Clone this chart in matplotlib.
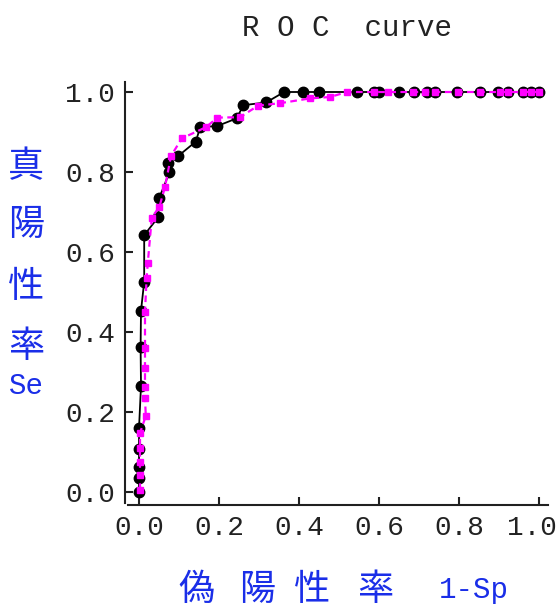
import matplotlib
matplotlib.use("Agg")
import matplotlib.pyplot as plt
from matplotlib.transforms import ScaledTranslation

# ROC points of the two tests (false-positive rate, true-positive rate)
fpr_a = [0.0, 0.0, 0.0, 0.0, 0.0, 0.005, 0.004, 0.005, 0.013, 0.013,
         0.048, 0.051, 0.076, 0.073, 0.098, 0.142, 0.153, 0.196, 0.244, 0.261,
         0.318, 0.363, 0.409, 0.45, 0.545, 0.5875, 0.6, 0.65, 0.6875, 0.72,
         0.74, 0.795, 0.8525, 0.8975, 0.9225, 0.96, 0.98, 1.0]
tpr_a = [0.0, 0.034, 0.063, 0.107, 0.159, 0.265, 0.363, 0.453, 0.526, 0.642,
         0.687, 0.736, 0.799, 0.823, 0.84, 0.876, 0.912, 0.915, 0.934, 0.967,
         0.974, 1.0, 1.0, 1.0, 1.0, 1.0, 1.0, 1.0, 1.0, 1.0,
         1.0, 1.0, 1.0, 1.0, 1.0, 1.0, 1.0, 1.0]

fpr_b = [0.0025, 0.0025, 0.0025, 0.0025, 0.0025, 0.017, 0.015, 0.015, 0.015, 0.015,
         0.015, 0.019, 0.022, 0.032, 0.051, 0.065, 0.08, 0.107, 0.1675, 0.196,
         0.2525, 0.298, 0.3525, 0.4275, 0.4775, 0.52, 0.5875, 0.6225, 0.685, 0.715,
         0.74, 0.7975, 0.8525, 0.9025, 0.9225, 0.96, 0.98, 1.0]
tpr_b = [0.005, 0.0425, 0.075, 0.11, 0.1475, 0.19, 0.234, 0.263, 0.309, 0.359,
         0.451, 0.534, 0.573, 0.686, 0.713, 0.7625, 0.84, 0.884, 0.912, 0.936,
         0.937, 0.966, 0.972, 0.984, 0.9875, 1.0, 1.0, 1.0, 1.0, 1.0,
         1.0, 1.0, 1.0, 1.0, 1.0, 1.0, 1.0, 1.0]

ticks = [0.0, 0.2, 0.4, 0.6, 0.8, 1.0]
tick_labels = ["0.0", "0.2", "0.4", "0.6", "0.8", "1.0"]

title = "R O C  curve"
ylabel_chars = ["真", "陽", "性", "率"]
ylabel_tail = "Se"
xlabel_chars = ["偽", "陽", "性", "率"]
xlabel_tail = "1-Sp"

mono = "Liberation Mono"
cjk = "Noto Sans CJK JP"

W, H = 560, 612
fig = plt.figure(figsize=(W / 100, H / 100), dpi=100)

# axes box in pixels: left 125, right 551, top 80, bottom 505
ax = fig.add_axes([125 / W, (H - 505) / H, 426 / W, 425 / H])
ax.set_xlim(-0.035, 1.03)
ax.set_ylim(-0.0325, 1.03)

ax.plot(fpr_a, tpr_a, color="black", lw=1.3,
        marker="o", ms=7.5, mfc="black", mec="black", zorder=2)
ax.plot(fpr_b, tpr_b, color="#ff00ff", lw=1.6, ls=(0, (3, 2)),
        marker="s", ms=5.0, mfc="#ff00ff", mec="#ff00ff", zorder=3)

for side in ("top", "right"):
    ax.spines[side].set_visible(False)
for side in ("left", "bottom"):
    ax.spines[side].set_linewidth(1.5)
    ax.spines[side].set_color("#202020")
ax.spines["left"].set_bounds(-0.0275, 1.025)
ax.spines["bottom"].set_bounds(-0.0275, 1.0225)

ax.set_xticks(ticks)
ax.set_yticks(ticks)
ax.set_xticklabels(tick_labels)
ax.set_yticklabels(tick_labels)
ax.tick_params(direction="in", length=6, width=1.5, color="#202020",
               pad=7, labelsize=20, labelcolor="#222222")
for lab in ax.get_xticklabels() + ax.get_yticklabels():
    lab.set_family(mono)
# pull the last x tick label slightly inward so it stays on the canvas
last = ax.get_xticklabels()[-1]
last.set_transform(last.get_transform() + ScaledTranslation(-7 / 100, 0, fig.dpi_scale_trans))

fig.text(347 / W, 1 - 28 / H, title, ha="center", va="center",
         family=mono, fontsize=21, color="#222222")

blue = "#1a2ee8"
ylab_y = [167, 225, 287, 347]
for ch, yy in zip(ylabel_chars, ylab_y):
    fig.text(26 / W, 1 - yy / H, ch, ha="center", va="center",
             family=[cjk, "DejaVu Sans"], fontsize=26, color=blue)
fig.text(26 / W, 1 - 386 / H, ylabel_tail, ha="center", va="center",
         family=mono, fontsize=21, color=blue)

xlab_x = [196, 257, 312, 375]
for ch, xx in zip(xlabel_chars, xlab_x):
    fig.text(xx / W, 1 - 590 / H, ch, ha="center", va="center",
             family=[cjk, "DejaVu Sans"], fontsize=26, color=blue)
fig.text(474 / W, 1 - 590 / H, xlabel_tail, ha="center", va="center",
         family=mono, fontsize=21, color=blue)

fig.savefig("out.png", dpi=100, facecolor="white")
